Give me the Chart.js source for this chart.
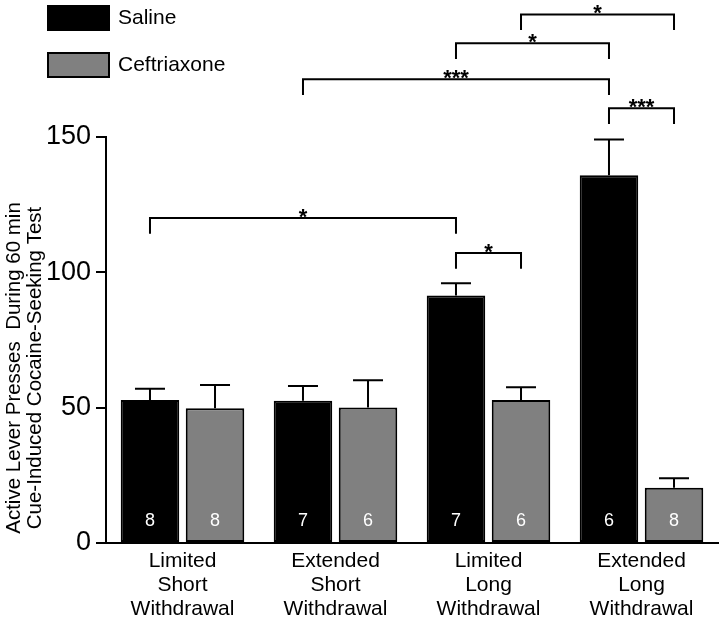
<!DOCTYPE html>
<html>
<head>
<meta charset="utf-8">
<script src="https://cdn.jsdelivr.net/npm/chart.js@4.4.0/dist/chart.umd.min.js"></script>
<style>
  html, body { margin: 0; padding: 0; background: #fff; }
  #wrap { width: 720px; height: 626px; }
</style>
</head>
<body>
<div id="wrap"><canvas id="myChart"></canvas></div>
<script>
var groups = [
  ['Limited', 'Short', 'Withdrawal'],
  ['Extended', 'Short', 'Withdrawal'],
  ['Limited', 'Long', 'Withdrawal'],
  ['Extended', 'Long', 'Withdrawal']
];
var saline = [52.8, 52.6, 91.4, 135.9];
var salineErr = [4.2, 5.4, 4.6, 13.2];
var salineN = [8, 7, 7, 6];
var ceftriaxone = [49.8, 50.1, 52.8, 20.4];
var ceftriaxoneErr = [8.6, 10.0, 4.7, 3.5];
var ceftriaxoneN = [8, 6, 6, 8];
var yTicks = [0, 50, 100, 150];
var yTitle = ['Active Lever Presses  During 60 min', 'Cue-Induced Cocaine-Seeking Test'];

// significance brackets: [group, dataset] -> [group, dataset], height in y units
var brackets = [
  { from: [0, 0], to: [2, 0], y: 120.1, label: '*' },
  { from: [2, 0], to: [2, 1], y: 107.1, label: '*' },
  { from: [1, 0], to: [3, 0], y: 171.3, label: '***' },
  { from: [3, 0], to: [3, 1], y: 160.6, label: '***' },
  { from: [2, 0], to: [3, 0], y: 184.6, label: '*' },
  { from: [2, 1], to: [3, 1], y: 195.3, label: '*' }
];
var legDrop = 5.8;

var FONT = "'Liberation Sans', Arial, sans-serif";

var extras = {
  id: 'extras',
  afterDatasetsDraw: function(chart) {
    var ctx = chart.ctx;
    var ys = chart.scales.y;
    var errs = [salineErr, ceftriaxoneErr];
    var ns = [salineN, ceftriaxoneN];

    ctx.save();
    ctx.strokeStyle = '#000';
    ctx.lineWidth = 2;
    // error bars (upper only)
    chart.data.datasets.forEach(function(ds, d) {
      chart.getDatasetMeta(d).data.forEach(function(bar, i) {
        var top = ys.getPixelForValue(ds.data[i] + errs[d][i]);
        ctx.beginPath();
        ctx.moveTo(bar.x, bar.y);
        ctx.lineTo(bar.x, top);
        ctx.moveTo(bar.x - 15, top);
        ctx.lineTo(bar.x + 15, top);
        ctx.stroke();
      });
    });

    // n inside bars
    ctx.fillStyle = '#fff';
    ctx.font = '18px ' + FONT;
    ctx.textAlign = 'center';
    ctx.textBaseline = 'middle';
    chart.data.datasets.forEach(function(ds, d) {
      chart.getDatasetMeta(d).data.forEach(function(bar, i) {
        ctx.fillText(String(ns[d][i]), bar.x, ys.getPixelForValue(0) - 22);
      });
    });
    ctx.restore();
  },
  afterDraw: function(chart) {
    var ctx = chart.ctx;
    var ys = chart.scales.y;
    var area = chart.chartArea;

    ctx.save();
    ctx.strokeStyle = '#000';
    ctx.fillStyle = '#000';
    ctx.lineWidth = 2;
    // brackets
    brackets.forEach(function(b) {
      var x1 = chart.getDatasetMeta(b.from[1]).data[b.from[0]].x;
      var x2 = chart.getDatasetMeta(b.to[1]).data[b.to[0]].x;
      var y = ys.getPixelForValue(b.y);
      var yl = ys.getPixelForValue(b.y - legDrop);
      ctx.beginPath();
      ctx.moveTo(x1, yl);
      ctx.lineTo(x1, y);
      ctx.lineTo(x2, y);
      ctx.lineTo(x2, yl);
      ctx.stroke();
      ctx.font = 'bold 22px ' + FONT;
      ctx.textAlign = 'center';
      ctx.textBaseline = 'alphabetic';
      ctx.fillText(b.label, (x1 + x2) / 2, y + 6);
    });

    // legend
    ctx.textAlign = 'left';
    ctx.textBaseline = 'middle';
    ctx.font = '21px ' + FONT;
    chart.data.datasets.forEach(function(ds, d) {
      var by = 6 + d * 47;
      ctx.fillStyle = ds.backgroundColor;
      ctx.fillRect(48, by, 61, 24);
      ctx.strokeRect(48, by, 61, 24);
      ctx.fillStyle = '#000';
      ctx.fillText(ds.label, 118, by + 12);
    });

    // y axis title
    ctx.font = '20.5px ' + FONT;
    ctx.textAlign = 'center';
    var cy = (area.top + area.bottom) / 2 + 28;
    yTitle.forEach(function(line, k) {
      ctx.save();
      ctx.translate(14 + k * 21, cy);
      ctx.rotate(-Math.PI / 2);
      ctx.fillText(line, 0, 0);
      ctx.restore();
    });
    ctx.restore();
  }
};

new Chart(document.getElementById('myChart'), {
  type: 'bar',
  data: {
    labels: groups,
    datasets: [{
      label: 'Saline',
      data: saline,
      backgroundColor: '#000000',
      borderColor: '#000000',
      borderWidth: 2,
      borderSkipped: false
    }, {
      label: 'Ceftriaxone',
      data: ceftriaxone,
      backgroundColor: '#808080',
      borderColor: '#000000',
      borderWidth: 2,
      borderSkipped: false
    }]
  },
  options: {
    responsive: true,
    maintainAspectRatio: false,
    animation: false,
    categoryPercentage: 0.85,
    barPercentage: 0.9,
    layout: { padding: { top: 137, left: 46, right: 2, bottom: 0 } },
    plugins: {
      legend: { display: false },
      tooltip: { enabled: false }
    },
    scales: {
      x: {
        afterFit: function(scale) { scale.height = 83; },
        grid: { display: false, drawTicks: false },
        border: { display: true, color: '#000', width: 2 },
        ticks: {
          color: '#000',
          padding: 6,
          maxRotation: 0,
          autoSkip: false,
          font: { family: FONT, size: 21, lineHeight: 1.15 }
        }
      },
      y: {
        min: 0,
        max: 150,
        afterFit: function(scale) { scale.width = 60; },
        afterBuildTicks: function(axis) {
          axis.ticks = yTicks.map(function(v) { return { value: v }; });
        },
        grid: { drawOnChartArea: false, drawTicks: true, tickLength: 10, color: '#000', lineWidth: 2 },
        border: { display: true, color: '#000', width: 2 },
        ticks: {
          color: '#000',
          padding: 5,
          font: { family: FONT, size: 27 }
        }
      }
    }
  },
  plugins: [extras]
});
</script>
</body>
</html>
